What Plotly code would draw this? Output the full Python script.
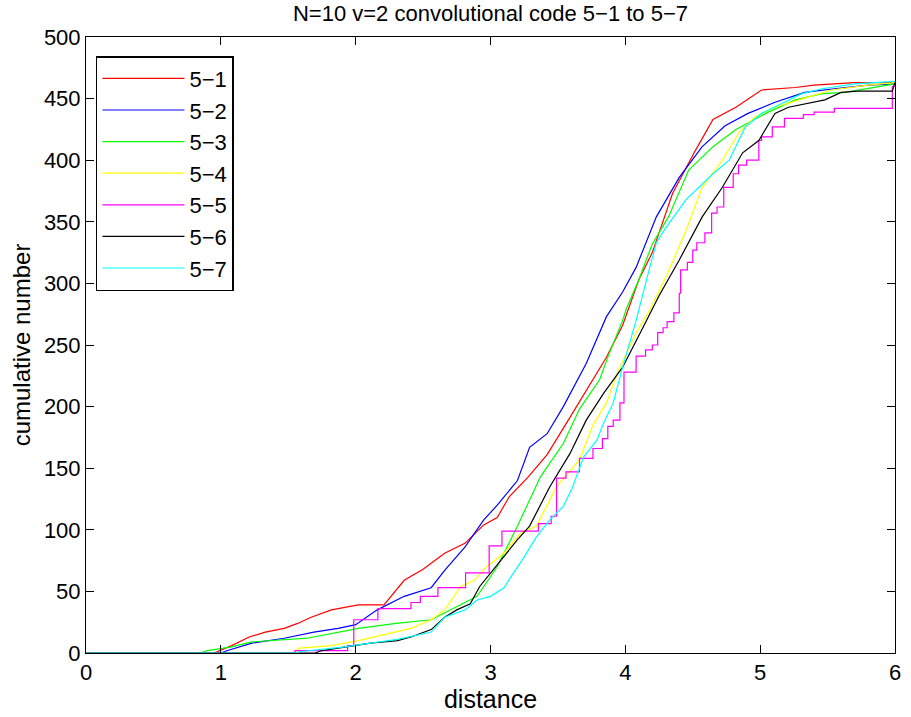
import plotly.graph_objects as go

title_text = "N=10 v=2 convolutional code 5\u22121 to 5\u22127"
x_label = "distance"
y_label = "cumulative number"
x_ticks = [0, 1, 2, 3, 4, 5, 6]
y_ticks = [0, 50, 100, 150, 200, 250, 300, 350, 400, 450, 500]

names = ["5\u22121", "5\u22122", "5\u22123", "5\u22124", "5\u22125", "5\u22126", "5\u22127"]
colors = ["#ff0000", "#0000ff", "#00ff00", "#ffff00", "#ff00ff", "#000000", "#00ffff"]

x_51 = [0, 0.95, 1.08, 1.21, 1.33, 1.47, 1.57, 1.67, 1.82, 2.02, 2.21, 2.36, 2.5, 2.66, 2.81, 2.95, 3.05,
        3.14, 3.28, 3.42, 3.56, 3.71, 3.86, 3.98, 4.10, 4.20, 4.35, 4.52, 4.65, 4.82, 5.01, 5.26, 5.40, 5.7, 6.0]
y_51 = [0, 0, 6, 13, 17, 20, 24, 29, 35, 39, 39, 59, 68, 81, 89, 104, 110,
        127, 143, 161, 186, 213, 240, 266, 303, 325, 373, 408, 433, 443, 457, 459, 461, 463, 463]

x_52 = [0, 1.0, 1.05, 1.23, 1.47, 1.69, 1.87, 2.0, 2.16, 2.36, 2.56, 2.66, 2.81, 2.95, 3.05, 3.20, 3.29,
        3.42, 3.54, 3.71, 3.86, 3.98, 4.08, 4.23, 4.40, 4.57, 4.74, 4.91, 5.11, 5.33, 5.55, 5.8, 6.0]
y_52 = [0, 0, 2, 8, 12, 17, 20, 23, 35, 46, 53, 67, 86, 108, 120, 140, 167,
        178, 200, 235, 273, 293, 313, 354, 386, 411, 428, 438, 447, 455, 458, 461, 462]

x_53 = [0, 0.85, 0.9, 1.08, 1.23, 1.47, 1.64, 2.02, 2.3, 2.56, 2.70, 2.90, 3.05, 3.20, 3.37, 3.54, 3.66,
        3.81, 3.88, 3.98, 4.01, 4.10, 4.20, 4.32, 4.47, 4.65, 4.82, 5.06, 5.26, 5.46, 5.63, 5.8, 6.0]
y_53 = [0, 0, 2, 5, 9, 11, 12, 20, 24, 27, 35, 46, 70, 103, 143, 170, 198,
        222, 243, 270, 280, 303, 332, 354, 392, 411, 425, 439, 449, 454, 455, 458, 462]

x_54 = [0, 1.55, 1.58, 1.82, 2.02, 2.22, 2.41, 2.56, 2.66, 2.78, 2.88, 2.97, 3.10, 3.22, 3.34, 3.49, 3.66,
        3.76, 3.86, 3.95, 4.08, 4.18, 4.30, 4.45, 4.57, 4.72, 4.84, 4.96, 5.11, 5.35, 5.53, 5.8, 6.0]
y_54 = [0, 0, 4, 6, 10, 15, 20, 27, 35, 54, 59, 70, 81, 97, 103, 135, 157,
        185, 203, 230, 260, 278, 305, 343, 378, 400, 422, 435, 443, 451, 457, 461, 463]

x_55 = [0, 1.55, 1.94, 1.986, 2.165, 2.41, 2.48, 2.61, 2.815, 2.99, 3.085, 3.355, 3.45, 3.49, 3.56, 3.66,
        3.76, 3.83, 3.87, 3.91, 3.96, 3.99, 4.08, 4.15, 4.20, 4.24, 4.28, 4.31, 4.36, 4.40, 4.41, 4.46,
        4.50, 4.53, 4.59, 4.64, 4.68, 4.73, 4.80, 4.84, 4.90, 4.99, 5.01, 5.09, 5.18, 5.32, 5.40, 5.55,
        5.98, 6.0]
y_55 = [0, 2, 6, 27, 36, 41, 46, 53, 65, 87, 99, 105, 111, 142, 147, 158,
        166, 174, 184, 189, 203, 228, 241, 246, 250, 260, 264, 269, 276, 292, 311, 317,
        327, 333, 341, 357, 362, 378, 389, 396, 400, 416, 419, 427, 434, 437, 439, 442,
        460, 460]

x_56 = [0, 1.7, 1.75, 1.97, 2.11, 2.31, 2.41, 2.56, 2.66, 2.75, 2.85, 2.92, 3.0, 3.10, 3.20, 3.29, 3.44,
        3.59, 3.71, 3.84, 3.98, 4.13, 4.25, 4.40, 4.57, 4.72, 4.87, 4.99, 5.11, 5.21, 5.35, 5.48, 5.60,
        5.72, 5.98, 6.0]
y_56 = [0, 0, 2, 6, 8, 10, 13, 19, 29, 35, 40, 54, 65, 78, 92, 103, 135,
        162, 189, 211, 232, 264, 290, 319, 354, 378, 406, 416, 438, 443, 446, 449, 455,
        456, 456, 463]

x_57 = [0, 1.55, 1.58, 1.92, 2.11, 2.31, 2.56, 2.66, 2.81, 2.90, 3.0, 3.10, 3.14, 3.25, 3.34, 3.44, 3.54,
        3.61, 3.69, 3.79, 3.84, 3.91, 3.98, 4.08, 4.15, 4.23, 4.30, 4.45, 4.65, 4.77, 4.89, 5.01, 5.16,
        5.31, 5.46, 5.7, 6.0]
y_57 = [0, 0, 1, 5, 8, 11, 17, 29, 35, 43, 46, 53, 60, 78, 94, 108, 119,
        135, 159, 173, 187, 203, 232, 270, 300, 333, 345, 368, 389, 400, 427, 438, 446,
        454, 458, 462, 464]

series_x = [x_51, x_52, x_53, x_54, x_55, x_56, x_57]
series_y = [y_51, y_52, y_53, y_54, y_55, y_56, y_57]
shapes = ["linear", "linear", "linear", "linear", "hv", "linear", "linear"]

FONT = "Liberation Sans, Arial, Helvetica, sans-serif"

fig = go.Figure()
for i in range(7):
    fig.add_trace(go.Scatter(
        x=series_x[i], y=series_y[i], mode="lines", name=names[i],
        line=dict(color=colors[i], width=1.2, shape=shapes[i]),
        legendgroup=f"g{i}",
    ))

axis_common = dict(
    showline=True, linecolor="black", linewidth=1, mirror="ticks",
    ticks="inside", ticklen=8, tickwidth=1, tickcolor="black",
    showgrid=False, zeroline=False,
    tickfont=dict(family=FONT, size=22, color="black"),
)

fig.update_layout(
    width=911, height=717,
    margin=dict(l=86, r=10, t=37, b=64),
    paper_bgcolor="white", plot_bgcolor="white",
    font=dict(family=FONT, color="black"),
    title=dict(text=title_text, x=0.5, xref="paper", y=1 - 13 / 717, yref="container",
               yanchor="middle", xanchor="center", font=dict(family=FONT, size=22, color="black")),
    xaxis=dict(range=[0, 6], tickvals=x_ticks, title=dict(text=x_label, font=dict(family=FONT, size=25), standoff=2),
               **axis_common),
    yaxis=dict(range=[0, 500], tickvals=y_ticks, title=dict(text=y_label, font=dict(family=FONT, size=24), standoff=6),
               **axis_common),
    legend=dict(x=0.0123, y=0.969, xanchor="left", yanchor="top",
                bgcolor="white", bordercolor="black", borderwidth=1.5,
                font=dict(family=FONT, size=22, color="black"),
                traceorder="grouped", tracegroupgap=0, itemwidth=82),
    showlegend=True,
)

fig.write_html("out.html")
